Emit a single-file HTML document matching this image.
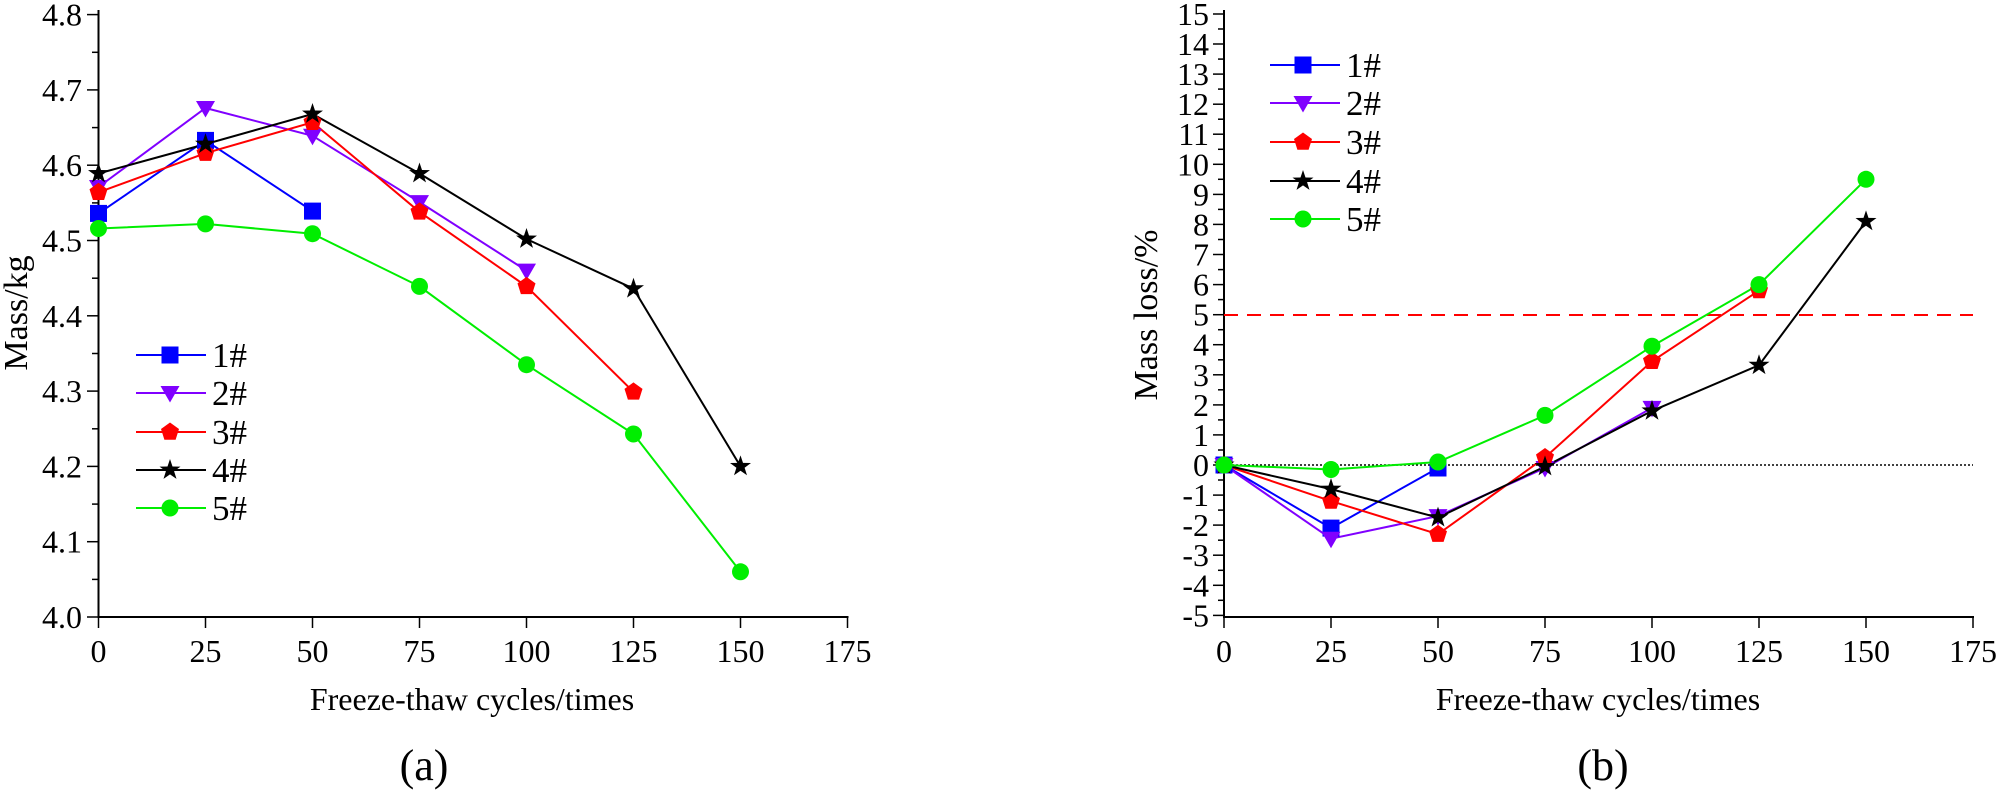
<!DOCTYPE html>
<html><head><meta charset="utf-8"><style>html,body{margin:0;padding:0;background:#fff}svg{display:block}</style></head>
<body>
<svg width="1997" height="791" viewBox="0 0 1997 791" xmlns="http://www.w3.org/2000/svg" font-family="'Liberation Serif', serif" fill="#000">
<defs>
<rect id="sq" x="-8.5" y="-8.5" width="17" height="17" fill="#0000ff"/>
<polygon id="tri" points="-9.5,-7 9.5,-7 0,9.5" fill="#8000ff"/>
<polygon id="pent" points="0,-9.5 9,-3 5.6,7.7 -5.6,7.7 -9,-3" fill="#ff0000"/>
<polygon id="star" points="0,-11 2.5,-3.5 10.5,-3.4 4.1,1.3 6.5,8.9 0,4.4 -6.5,8.9 -4.1,1.3 -10.5,-3.4 -2.5,-3.5" fill="#000"/>
<circle id="cir" r="8.5" fill="#00ee00"/>
</defs>

<!-- ===== Chart A ===== -->
<g stroke="#000" stroke-width="2">
<line x1="98.5" y1="10" x2="98.5" y2="618"/>
<line x1="97.5" y1="617" x2="848.5" y2="617"/>
</g>
<g stroke="#000" stroke-width="1.5">
<line x1="87" y1="617" x2="98" y2="617"/><line x1="87" y1="541.7" x2="98" y2="541.7"/><line x1="87" y1="466.4" x2="98" y2="466.4"/><line x1="87" y1="391.1" x2="98" y2="391.1"/><line x1="87" y1="315.8" x2="98" y2="315.8"/><line x1="87" y1="240.5" x2="98" y2="240.5"/><line x1="87" y1="165.2" x2="98" y2="165.2"/><line x1="87" y1="89.9" x2="98" y2="89.9"/><line x1="87" y1="14.6" x2="98" y2="14.6"/>
<line x1="92" y1="579.4" x2="98" y2="579.4"/><line x1="92" y1="504.1" x2="98" y2="504.1"/><line x1="92" y1="428.8" x2="98" y2="428.8"/><line x1="92" y1="353.5" x2="98" y2="353.5"/><line x1="92" y1="278.2" x2="98" y2="278.2"/><line x1="92" y1="202.9" x2="98" y2="202.9"/><line x1="92" y1="127.6" x2="98" y2="127.6"/><line x1="92" y1="52.3" x2="98" y2="52.3"/>
<line x1="98.5" y1="617" x2="98.5" y2="628"/><line x1="205.5" y1="617" x2="205.5" y2="628"/><line x1="312.5" y1="617" x2="312.5" y2="628"/><line x1="419.5" y1="617" x2="419.5" y2="628"/><line x1="526.5" y1="617" x2="526.5" y2="628"/><line x1="633.5" y1="617" x2="633.5" y2="628"/><line x1="740.5" y1="617" x2="740.5" y2="628"/><line x1="847.5" y1="617" x2="847.5" y2="628"/>
</g>
<g font-size="32" text-anchor="end">
<text x="82" y="628">4.0</text><text x="82" y="552.7">4.1</text><text x="82" y="477.4">4.2</text><text x="82" y="402.1">4.3</text><text x="82" y="326.8">4.4</text><text x="82" y="251.5">4.5</text><text x="82" y="176.2">4.6</text><text x="82" y="100.9">4.7</text><text x="82" y="25.6">4.8</text>
</g>
<g font-size="32" text-anchor="middle">
<text x="98.5" y="662">0</text><text x="205.5" y="662">25</text><text x="312.5" y="662">50</text><text x="419.5" y="662">75</text><text x="526.5" y="662">100</text><text x="633.5" y="662">125</text><text x="740.5" y="662">150</text><text x="847.5" y="662">175</text>
<text x="472" y="710">Freeze-thaw cycles/times</text>
<text x="424" y="780" font-size="44">(a)</text>
<text transform="translate(27,313) rotate(-90)" font-size="34">Mass/kg</text>
</g>
<g fill="none" stroke-width="2">
<polyline stroke="#0000ff" points="98.5,213.4 205.5,140.4 312.5,211.1"/>
<polyline stroke="#8000ff" points="98.5,187 205.5,108 312.5,135.8 419.5,202.1 526.5,270.6"/>
<polyline stroke="#ff0000" points="98.5,192.3 205.5,153.2 312.5,122.3 419.5,211.9 526.5,286.4 633.5,391.9"/>
<polyline stroke="#000" points="98.5,173.5 205.5,144.1 312.5,114 419.5,173.5 526.5,239 633.5,288.7 740.5,466.4"/>
<polyline stroke="#00ee00" points="98.5,228.5 205.5,223.9 312.5,233.7 419.5,286.4 526.5,364.7 633.5,434 740.5,571.8"/>
</g>
<use href="#sq" x="98.5" y="213.4"/><use href="#sq" x="205.5" y="140.4"/><use href="#sq" x="312.5" y="211.1"/>
<use href="#tri" x="98.5" y="187"/><use href="#tri" x="205.5" y="108"/><use href="#tri" x="312.5" y="135.8"/><use href="#tri" x="419.5" y="202.1"/><use href="#tri" x="526.5" y="270.6"/>
<use href="#pent" x="98.5" y="192.3"/><use href="#pent" x="205.5" y="153.2"/><use href="#pent" x="312.5" y="122.3"/><use href="#pent" x="419.5" y="211.9"/><use href="#pent" x="526.5" y="286.4"/><use href="#pent" x="633.5" y="391.9"/>
<use href="#star" x="98.5" y="173.5"/><use href="#star" x="205.5" y="144.1"/><use href="#star" x="312.5" y="114"/><use href="#star" x="419.5" y="173.5"/><use href="#star" x="526.5" y="239"/><use href="#star" x="633.5" y="288.7"/><use href="#star" x="740.5" y="466.4"/>
<use href="#cir" x="98.5" y="228.5"/><use href="#cir" x="205.5" y="223.9"/><use href="#cir" x="312.5" y="233.7"/><use href="#cir" x="419.5" y="286.4"/><use href="#cir" x="526.5" y="364.7"/><use href="#cir" x="633.5" y="434"/><use href="#cir" x="740.5" y="571.8"/>
<!-- legend A -->
<g stroke-width="2">
<line x1="136" y1="355" x2="206" y2="355" stroke="#0000ff"/>
<line x1="136" y1="393" x2="206" y2="393" stroke="#8000ff"/>
<line x1="136" y1="432" x2="206" y2="432" stroke="#ff0000"/>
<line x1="136" y1="470" x2="206" y2="470" stroke="#000"/>
<line x1="136" y1="508" x2="206" y2="508" stroke="#00ee00"/>
</g>
<use href="#sq" x="170" y="355"/><use href="#tri" x="170" y="393"/><use href="#pent" x="170" y="432"/><use href="#star" x="170" y="470"/><use href="#cir" x="170" y="508"/>
<g font-size="35"><text x="212" y="367">1#</text><text x="212" y="405">2#</text><text x="212" y="444">3#</text><text x="212" y="482">4#</text><text x="212" y="520">5#</text></g>

<!-- ===== Chart B ===== -->
<g stroke="#000" stroke-width="2">
<line x1="1224" y1="10" x2="1224" y2="618"/>
<line x1="1223" y1="617" x2="1974" y2="617"/>
</g>
<g stroke="#000" stroke-width="1.5">
<line x1="1213" y1="615.4" x2="1224" y2="615.4"/><line x1="1213" y1="585.3" x2="1224" y2="585.3"/><line x1="1213" y1="555.2" x2="1224" y2="555.2"/><line x1="1213" y1="525.1" x2="1224" y2="525.1"/><line x1="1213" y1="495.1" x2="1224" y2="495.1"/><line x1="1213" y1="465" x2="1224" y2="465"/><line x1="1213" y1="434.9" x2="1224" y2="434.9"/><line x1="1213" y1="404.9" x2="1224" y2="404.9"/><line x1="1213" y1="374.8" x2="1224" y2="374.8"/><line x1="1213" y1="344.7" x2="1224" y2="344.7"/><line x1="1213" y1="314.7" x2="1224" y2="314.7"/><line x1="1213" y1="284.6" x2="1224" y2="284.6"/><line x1="1213" y1="254.5" x2="1224" y2="254.5"/><line x1="1213" y1="224.4" x2="1224" y2="224.4"/><line x1="1213" y1="194.4" x2="1224" y2="194.4"/><line x1="1213" y1="164.3" x2="1224" y2="164.3"/><line x1="1213" y1="134.2" x2="1224" y2="134.2"/><line x1="1213" y1="104.2" x2="1224" y2="104.2"/><line x1="1213" y1="74.1" x2="1224" y2="74.1"/><line x1="1213" y1="44" x2="1224" y2="44"/><line x1="1213" y1="14" x2="1224" y2="14"/>
<line x1="1218" y1="600.3" x2="1224" y2="600.3"/><line x1="1218" y1="570.3" x2="1224" y2="570.3"/><line x1="1218" y1="540.2" x2="1224" y2="540.2"/><line x1="1218" y1="510.1" x2="1224" y2="510.1"/><line x1="1218" y1="480" x2="1224" y2="480"/><line x1="1218" y1="450" x2="1224" y2="450"/><line x1="1218" y1="419.9" x2="1224" y2="419.9"/><line x1="1218" y1="389.8" x2="1224" y2="389.8"/><line x1="1218" y1="359.8" x2="1224" y2="359.8"/><line x1="1218" y1="329.7" x2="1224" y2="329.7"/><line x1="1218" y1="299.6" x2="1224" y2="299.6"/><line x1="1218" y1="269.6" x2="1224" y2="269.6"/><line x1="1218" y1="239.5" x2="1224" y2="239.5"/><line x1="1218" y1="209.4" x2="1224" y2="209.4"/><line x1="1218" y1="179.3" x2="1224" y2="179.3"/><line x1="1218" y1="149.3" x2="1224" y2="149.3"/><line x1="1218" y1="119.2" x2="1224" y2="119.2"/><line x1="1218" y1="89.1" x2="1224" y2="89.1"/><line x1="1218" y1="59.1" x2="1224" y2="59.1"/><line x1="1218" y1="29" x2="1224" y2="29"/>
<line x1="1224" y1="617" x2="1224" y2="628"/><line x1="1331" y1="617" x2="1331" y2="628"/><line x1="1438" y1="617" x2="1438" y2="628"/><line x1="1545" y1="617" x2="1545" y2="628"/><line x1="1652" y1="617" x2="1652" y2="628"/><line x1="1759" y1="617" x2="1759" y2="628"/><line x1="1866" y1="617" x2="1866" y2="628"/><line x1="1973" y1="617" x2="1973" y2="628"/>
</g>
<g font-size="32" text-anchor="end">
<text x="1209" y="626.4">-5</text><text x="1209" y="596.3">-4</text><text x="1209" y="566.2">-3</text><text x="1209" y="536.1">-2</text><text x="1209" y="506.1">-1</text><text x="1209" y="476">0</text><text x="1209" y="445.9">1</text><text x="1209" y="415.9">2</text><text x="1209" y="385.8">3</text><text x="1209" y="355.7">4</text><text x="1209" y="325.7">5</text><text x="1209" y="295.6">6</text><text x="1209" y="265.5">7</text><text x="1209" y="235.4">8</text><text x="1209" y="205.4">9</text><text x="1209" y="175.3">10</text><text x="1209" y="145.2">11</text><text x="1209" y="115.2">12</text><text x="1209" y="85.1">13</text><text x="1209" y="55">14</text><text x="1209" y="25">15</text>
</g>
<g font-size="32" text-anchor="middle">
<text x="1224" y="662">0</text><text x="1331" y="662">25</text><text x="1438" y="662">50</text><text x="1545" y="662">75</text><text x="1652" y="662">100</text><text x="1759" y="662">125</text><text x="1866" y="662">150</text><text x="1973" y="662">175</text>
<text x="1598" y="710">Freeze-thaw cycles/times</text>
<text x="1603" y="780" font-size="44">(b)</text>
<text transform="translate(1157,315) rotate(-90)" font-size="34">Mass loss/%</text>
</g>
<line x1="1224" y1="465" x2="1973" y2="465" stroke="#000" stroke-width="1.5" stroke-dasharray="2,2"/>
<line x1="1224" y1="315" x2="1973" y2="315" stroke="#ff0000" stroke-width="2" stroke-dasharray="14,9"/>
<g fill="none" stroke-width="2">
<polyline stroke="#0000ff" points="1224,465 1331,528.1 1438,468"/>
<polyline stroke="#8000ff" points="1224,465 1331,538.7 1438,516.1 1545,468 1652,407.9"/>
<polyline stroke="#ff0000" points="1224,465 1331,501.1 1438,534.2 1545,457.5 1652,361.3 1759,290.6"/>
<polyline stroke="#000" points="1224,465 1331,489.1 1438,517.6 1545,466.5 1652,410.9 1759,365.2 1866,221.4"/>
<polyline stroke="#00ee00" points="1224,465 1331,469.5 1438,462 1545,415.4 1652,346.2 1759,284.6 1866,179.3"/>
</g>
<use href="#sq" x="1224" y="465"/><use href="#sq" x="1331" y="528.1"/><use href="#sq" x="1438" y="468"/>
<use href="#tri" x="1224" y="465"/><use href="#tri" x="1331" y="538.7"/><use href="#tri" x="1438" y="516.1"/><use href="#tri" x="1545" y="468"/><use href="#tri" x="1652" y="407.9"/>
<use href="#pent" x="1224" y="465"/><use href="#pent" x="1331" y="501.1"/><use href="#pent" x="1438" y="534.2"/><use href="#pent" x="1545" y="457.5"/><use href="#pent" x="1652" y="361.3"/><use href="#pent" x="1759" y="290.6"/>
<use href="#star" x="1224" y="465"/><use href="#star" x="1331" y="489.1"/><use href="#star" x="1438" y="517.6"/><use href="#star" x="1545" y="466.5"/><use href="#star" x="1652" y="410.9"/><use href="#star" x="1759" y="365.2"/><use href="#star" x="1866" y="221.4"/>
<use href="#cir" x="1224" y="465"/><use href="#cir" x="1331" y="469.5"/><use href="#cir" x="1438" y="462"/><use href="#cir" x="1545" y="415.4"/><use href="#cir" x="1652" y="346.2"/><use href="#cir" x="1759" y="284.6"/><use href="#cir" x="1866" y="179.3"/>
<!-- legend B -->
<g stroke-width="2">
<line x1="1270" y1="65" x2="1340" y2="65" stroke="#0000ff"/>
<line x1="1270" y1="103" x2="1340" y2="103" stroke="#8000ff"/>
<line x1="1270" y1="142" x2="1340" y2="142" stroke="#ff0000"/>
<line x1="1270" y1="181" x2="1340" y2="181" stroke="#000"/>
<line x1="1270" y1="219" x2="1340" y2="219" stroke="#00ee00"/>
</g>
<use href="#sq" x="1303" y="65"/><use href="#tri" x="1303" y="103"/><use href="#pent" x="1303" y="142"/><use href="#star" x="1303" y="181"/><use href="#cir" x="1303" y="219"/>
<g font-size="35"><text x="1346" y="77">1#</text><text x="1346" y="115">2#</text><text x="1346" y="154">3#</text><text x="1346" y="193">4#</text><text x="1346" y="231">5#</text></g>
</svg>
</body></html>
